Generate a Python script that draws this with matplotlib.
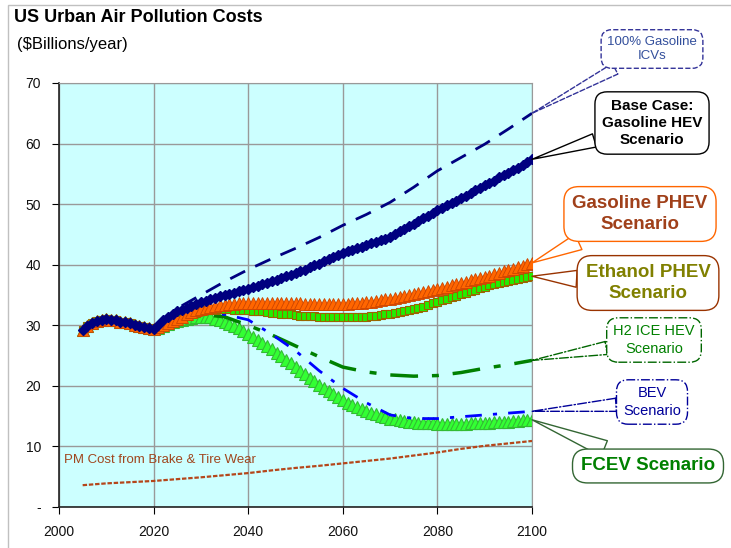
import matplotlib.pyplot as plt
from matplotlib.patches import Rectangle

plt.rcParams['font.family'] = ['Liberation Sans', 'DejaVu Sans']

# shared history 2005-2020
hist_years = list(range(2005, 2021))
hist = [29.3, 29.8, 30.3, 30.7, 30.9, 31.0, 30.9, 30.8, 30.6, 30.5, 30.3, 30.1, 29.9, 29.7, 29.5, 29.4]

years = list(range(2005, 2101))

hev = [30.1, 30.8, 31.4, 31.9, 32.3, 32.6, 32.9, 33.2, 33.5, 33.8,
       34.0, 34.3, 34.5, 34.8, 35.0, 35.2, 35.4, 35.6, 35.8, 36.0,
       36.3, 36.5, 36.8, 37.0, 37.3, 37.5, 37.8, 38.1, 38.3, 38.6,
       38.9, 39.2, 39.6, 39.9, 40.2, 40.6, 40.9, 41.3, 41.6, 42.0,
       42.3, 42.5, 42.8, 43.0, 43.3, 43.6, 43.8, 44.1, 44.3, 44.6,
       45.0, 45.5, 45.9, 46.4, 46.8, 47.2, 47.7, 48.1, 48.6, 49.0,
       49.4, 49.8, 50.2, 50.6, 51.0, 51.4, 51.8, 52.3, 52.7, 53.1,
       53.5, 53.9, 54.4, 54.8, 55.2, 55.6, 56.0, 56.5, 56.9, 57.4]

gas_phev = [29.7, 30.0, 30.3, 30.7, 31.0, 31.4, 31.8, 32.2, 32.5, 32.7,
            32.9, 33.0, 33.2, 33.3, 33.4, 33.5, 33.5, 33.6, 33.6, 33.7,
            33.7, 33.7, 33.7, 33.7, 33.7, 33.7, 33.7, 33.6, 33.6, 33.6,
            33.6, 33.5, 33.5, 33.5, 33.5, 33.5, 33.5, 33.5, 33.5, 33.5,
            33.5, 33.6, 33.6, 33.7, 33.8, 33.9, 34.0, 34.1, 34.3, 34.4,
            34.5, 34.7, 34.8, 35.0, 35.1, 35.3, 35.5, 35.6, 35.8, 36.0,
            36.2, 36.4, 36.6, 36.8, 37.0, 37.2, 37.4, 37.6, 37.8, 38.0,
            38.2, 38.4, 38.7, 38.9, 39.1, 39.3, 39.6, 39.8, 40.1, 40.3]

eth_phev = [29.6, 29.9, 30.2, 30.5, 30.8, 31.2, 31.5, 31.8, 32.1, 32.4,
            32.5, 32.6, 32.6, 32.7, 32.7, 32.7, 32.6, 32.6, 32.5, 32.5,
            32.4, 32.3, 32.3, 32.2, 32.1, 32.0, 31.9, 31.9, 31.8, 31.7,
            31.6, 31.6, 31.5, 31.5, 31.4, 31.4, 31.4, 31.3, 31.3, 31.3,
            31.3, 31.3, 31.3, 31.4, 31.4, 31.5, 31.6, 31.7, 31.8, 31.9,
            32.1, 32.2, 32.4, 32.5, 32.7, 32.9, 33.1, 33.3, 33.6, 33.8,
            34.1, 34.3, 34.6, 34.8, 35.1, 35.4, 35.6, 35.9, 36.1, 36.4,
            36.6, 36.8, 36.9, 37.1, 37.3, 37.5, 37.6, 37.8, 37.9, 38.1]

fcev = [29.6, 29.9, 30.2, 30.5, 30.7, 30.9, 31.1, 31.2, 31.3, 31.4,
        31.4, 31.3, 31.1, 30.8, 30.5, 30.2, 29.8, 29.5, 29.0, 28.6,
        28.1, 27.6, 27.1, 26.6, 26.1, 25.5, 24.9, 24.3, 23.7, 23.1,
        22.5, 21.9, 21.3, 20.8, 20.2, 19.7, 19.1, 18.6, 18.1, 17.6,
        17.2, 16.8, 16.5, 16.1, 15.8, 15.5, 15.3, 15.0, 14.8, 14.6,
        14.5, 14.3, 14.2, 14.1, 14.0, 13.9, 13.9, 13.8, 13.8, 13.7,
        13.7, 13.7, 13.7, 13.7, 13.7, 13.7, 13.8, 13.8, 13.9, 13.9,
        13.9, 14.0, 14.0, 14.1, 14.1, 14.2, 14.2, 14.3, 14.3, 14.4]

# 5-year series for plain lines
line_years = list(range(2020, 2101, 5))
icv = [29.6, 32.8, 35.0, 37.2, 39.2, 41.0, 42.7, 44.5, 46.5, 48.3, 50.3, 52.8, 55.5, 57.7, 59.9, 62.4, 65.0]
h2_ice = [29.5, 31.0, 31.8, 31.4, 30.0, 28.4, 26.6, 24.8, 23.1, 22.3, 21.8, 21.6, 21.7, 22.2, 22.9, 23.5, 24.2]
bev = [29.5, 31.0, 32.0, 31.8, 30.9, 28.5, 25.8, 22.5, 19.6, 17.2, 15.2, 14.6, 14.6, 14.9, 15.2, 15.5, 15.8]

pm_years = list(range(2005, 2101, 5))
pm = [3.6, 3.9, 4.1, 4.3, 4.6, 4.9, 5.25, 5.6, 6.05, 6.45, 6.8, 7.2, 7.6, 8.0, 8.5, 9.0, 9.6, 10.1, 10.5, 10.9]

fig = plt.figure(figsize=(7.31, 5.48), dpi=100)
fig.patches.append(Rectangle((8 / 731, -0.1), 1.2, 0.1 + (548 - 5) / 548, transform=fig.transFigure,
                             fill=False, ec='#c0c0c0', lw=1))
ax = fig.add_axes([59 / 731, 41 / 548, 473 / 731, 424 / 548])
ax.set_facecolor('#ccffff')

ax.plot(hist_years + line_years[1:], hist + icv[1:], color='#000080', lw=2, dashes=(6, 4), zorder=6)
ax.plot(years, hist + fcev, ls='none', marker='^', ms=9, mfc='#33ff33', mec='#33bb33', mew=0.8, zorder=2)
ax.plot(line_years, h2_ice, color='#008000', lw=2.5, dashes=(8, 4, 2, 4), zorder=3)
ax.plot(line_years, bev, color='#0000ff', lw=2, dashes=(6, 4, 1.5, 4), zorder=3)
ax.plot(years, hist + eth_phev, ls='none', marker='s', ms=6, mfc='#22ee00', mec='#996600', mew=0.8, zorder=4)
ax.plot(years, hist + gas_phev, ls='none', marker='^', ms=8, mfc='#ff6600', mec='#cc4400', mew=0.6, zorder=5)
ax.plot(years, hist + hev, color='#000080', lw=1, marker='D', ms=5, mfc='#000080', mec='#000080', zorder=6)
ax.plot(pm_years, pm, color='#b5461a', lw=1.6, dashes=(2, 0.8), zorder=6)

ax.text(2001, 7.3, 'PM Cost from Brake & Tire Wear', color='#a0461e', fontsize=9.5)

ax.set_xlim(2000, 2100)
ax.set_ylim(0, 70)
ax.set_xticks(range(2000, 2101, 20))
ax.set_yticks(range(0, 71, 10))
ax.set_yticklabels(['-'] + [str(v) for v in range(10, 71, 10)])
ax.tick_params(labelsize=10, direction='out', length=5, pad=8, labelcolor='#111111')
ax.grid(True, color='#999999', lw=1)
ax.set_axisbelow(True)
for s in ['top', 'right']:
    ax.spines[s].set_color('#999999')
for s in ['left', 'bottom']:
    ax.spines[s].set_color('#222222')
    ax.spines[s].set_linewidth(1.2)

fig.text(14 / 731, 1 - 18 / 548, 'US Urban Air Pollution Costs', fontsize=13, fontweight='bold', va='center')
fig.text(17 / 731, 1 - 44 / 548, '($Billions/year)', fontsize=12, va='center')


def callout(text, xy, pos, color, ec, ls='-', bold=False, size=10):
    ax.annotate(text, xy=xy, xycoords='data', xytext=pos, textcoords='figure fraction',
                ha='center', va='center', color=color, fontsize=size, linespacing=1.3,
                fontweight='bold' if bold else 'normal', annotation_clip=False, zorder=10,
                bbox=dict(boxstyle='round,pad=0.45,rounding_size=0.8', fc='white', ec=ec, ls=ls, lw=1),
                arrowprops=dict(arrowstyle='wedge,tail_width=0.9,shrink_factor=0.5', fc='white', ec=ec,
                                ls=ls, lw=1, shrinkA=0, shrinkB=0))


callout('100% Gasoline\nICVs', (2100, icv[-1]), (652 / 731, 1 - 49 / 548), '#334f9c', '#333399', ls='--', size=9.5)
callout('Base Case:\nGasoline HEV\nScenario', (2100, hev[-1]), (652 / 731, 1 - 123 / 548), 'black', 'black', bold=True, size=11)
callout('Gasoline PHEV\nScenario', (2100, gas_phev[-1]), (640 / 731, 1 - 214 / 548), '#a0401a', '#ff6600', bold=True, size=13.5)
callout('Ethanol PHEV\nScenario', (2100, eth_phev[-1]), (648 / 731, 1 - 283 / 548), '#808000', '#993300', bold=True, size=13.5)
callout('H2 ICE HEV\nScenario', (2100, h2_ice[-1]), (654 / 731, 1 - 340 / 548), '#008000', '#006600', ls='-.', size=10.5)
callout('BEV\nScenario', (2100, bev[-1]), (652 / 731, 1 - 402 / 548), '#000099', '#000099', ls='-.', size=10.5)
callout('FCEV Scenario', (2100, fcev[-1]), (648 / 731, 1 - 466 / 548), '#008000', '#336633', bold=True, size=13.5)

plt.savefig('out.png', dpi=100)
